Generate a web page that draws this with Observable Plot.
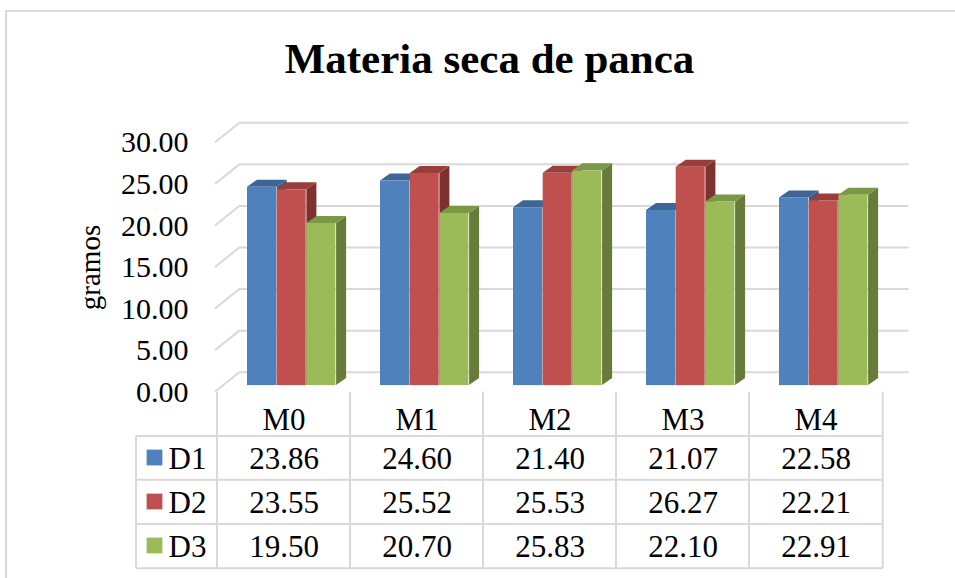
<!DOCTYPE html>
<html><head><meta charset="utf-8">
<script src="https://cdn.jsdelivr.net/npm/d3@7"></script>
<script src="https://cdn.jsdelivr.net/npm/@observablehq/plot@0.6"></script>
<style>
html,body{margin:0;padding:0;background:#fff;}
#wrap{position:relative;width:955px;height:578px;overflow:hidden;background:#fff;}
#border{position:absolute;left:5px;top:10px;width:1000px;height:1000px;border-left:2px solid #d9d9d9;border-top:2px solid #d9d9d9;}
#chart{position:absolute;left:0;top:0;}
</style></head><body>
<div id="wrap"><div id="border"></div><div id="chart"></div></div>
<script>
// ---- data ----
const title = "Materia seca de panca";
const yLabel = "gramos";
const categories = ["M0", "M1", "M2", "M3", "M4"];
const seriesNames = ["D1", "D2", "D3"];
const valuesD1 = [23.86, 24.60, 21.40, 21.07, 22.58];
const valuesD2 = [23.55, 25.52, 25.53, 26.27, 22.21];
const valuesD3 = [19.50, 20.70, 25.83, 22.10, 22.91];
const yTicks = [0, 5, 10, 15, 20, 25, 30];

// ---- styles ----
const seriesValues = [valuesD1, valuesD2, valuesD3];
const colors = ["#4F81BD", "#C0504D", "#9BBB59"];
const topColors = ["#3D6694", "#9B3E3B", "#7B9846"];
const sideColors = ["#375C87", "#7E3230", "#677C3A"];
const gridColor = "#d9d9d9";
const serif = "'Liberation Serif', 'Times New Roman', serif";
const fmt = d3.format(".2f");

const W = 955, H = 578;
const mL = 215, mR = 71.5, mT = 142.3, mB = 186.3;
const band = (W - mL - mR) / categories.length;
const BW = 29.7;        // bar width
const L0 = 21.75;       // first bar inset within band (front plane)
const PX = 8.25, PY = -6.6;   // bar plane offset from front plane
const DX = 10, DY = -7;       // bar depth
const WX = 25, WY = -20;      // wall depth
const frontBottom = H - mB;
const rowBase = [429, 468, 512, 556];   // header + rows baselines
const rowLines = [436, 479.8, 524, 568.3];
const tableLeft = 136;

const data = categories.flatMap((c, j) =>
  seriesValues.map((vals, i) => ({cat: c, series: seriesNames[i], i, value: vals[j]})));

function pts(a) { return a.map(p => p.join(",")).join(" "); }

// left wall diagonals
function wallLines(index, scales) {
  const {y} = scales;
  const g = d3.create("svg:g");
  for (const t of yTicks) {
    g.append("line")
      .attr("x1", mL).attr("y1", y(t))
      .attr("x2", mL + WX).attr("y2", y(t) + WY)
      .attr("stroke", gridColor).attr("stroke-width", 2);
  }
  return g.node();
}

// 3D side and top faces
function barFaces(index, scales) {
  const {x, y} = scales;
  const g = d3.create("svg:g");
  for (const c of categories) {
    for (let i = 0; i < seriesNames.length; i++) {
      const d = data.find(e => e.cat === c && e.i === i);
      const x0 = x(c) + PX + L0 + i * BW, x1 = x0 + BW;
      const yt = y(d.value) + PY, yb = y(0) + PY;
      g.append("polygon")
        .attr("points", pts([[x1, yb], [x1 + DX, yb + DY], [x1 + DX, yt + DY], [x1, yt]]))
        .attr("fill", sideColors[i]);
      g.append("polygon")
        .attr("points", pts([[x0, yt], [x0 + DX, yt + DY], [x1 + DX, yt + DY], [x1, yt]]))
        .attr("fill", topColors[i]);
    }
  }
  return g.node();
}

// data table grid
function tableLines(index, scales) {
  const {x} = scales;
  const g = d3.create("svg:g").attr("stroke", gridColor).attr("stroke-width", 2);
  const edges = categories.map(c => x(c)).concat([x(categories[categories.length - 1]) + band]);
  for (const e of edges) {
    g.append("line").attr("x1", e).attr("x2", e).attr("y1", frontBottom).attr("y2", rowLines[3]);
  }
  g.append("line").attr("x1", tableLeft).attr("x2", tableLeft).attr("y1", rowLines[0]).attr("y2", rowLines[3]);
  for (const r of rowLines) {
    g.append("line").attr("x1", tableLeft).attr("x2", edges[edges.length - 1]).attr("y1", r).attr("y2", r);
  }
  return g.node();
}

const marks = [
  Plot.ruleY(yTicks, {y: d => d, dx: WX, dy: WY, stroke: gridColor, strokeWidth: 2}),
  wallLines,
  barFaces,
];
seriesNames.forEach((s, i) => {
  marks.push(Plot.barY(data.filter(d => d.i === i), {
    x: "cat", y: "value", fill: colors[i],
    insetLeft: L0 + i * BW, insetRight: band - L0 - (i + 1) * BW,
    dx: PX, dy: PY
  }));
});
marks.push(
  Plot.axisY(yTicks, {tickSize: 0, tickPadding: 27, tickFormat: fmt, fontSize: 30, fontFamily: serif, label: null}),
  Plot.text([yLabel], {frameAnchor: "left", dx: 90 - mL, rotate: -90, textAnchor: "middle", lineAnchor: "middle", fontSize: 29, fontFamily: serif}),
  Plot.text([title], {frameAnchor: "top", dx: 489 - (mL + (W - mR)) / 2, dy: 72 - mT, textAnchor: "middle", lineAnchor: "bottom", fontSize: 43, fontWeight: "bold", fontFamily: serif}),
  tableLines,
  Plot.text(categories, {x: d => d, frameAnchor: "bottom", dy: rowBase[0] - frontBottom, lineAnchor: "bottom", fontSize: 31, fontFamily: serif})
);
seriesNames.forEach((s, i) => {
  marks.push(
    Plot.text(categories.map((c, j) => ({c, v: seriesValues[i][j]})), {
      x: "c", text: d => fmt(d.v), frameAnchor: "bottom",
      dy: rowBase[i + 1] - frontBottom, lineAnchor: "bottom", fontSize: 31, fontFamily: serif
    }),
    Plot.dot([s], {frameAnchor: "bottom-left", dx: 154 - mL, dy: rowBase[i + 1] - 11 - frontBottom,
      symbol: "square", r: 8.9, fill: colors[i], stroke: null}),
    Plot.text([s], {frameAnchor: "bottom-left", dx: 168 - mL, dy: rowBase[i + 1] - frontBottom,
      textAnchor: "start", lineAnchor: "bottom", fontSize: 31, fontFamily: serif})
  );
});

const chart = Plot.plot({
  width: W, height: H,
  marginLeft: mL, marginRight: mR, marginTop: mT, marginBottom: mB,
  style: {fontFamily: serif, color: "#000", background: "transparent", overflow: "visible"},
  x: {type: "band", domain: categories, padding: 0, axis: null},
  y: {domain: [0, 30]},
  marks
});
document.getElementById("chart").appendChild(chart);
</script>
</body></html>
